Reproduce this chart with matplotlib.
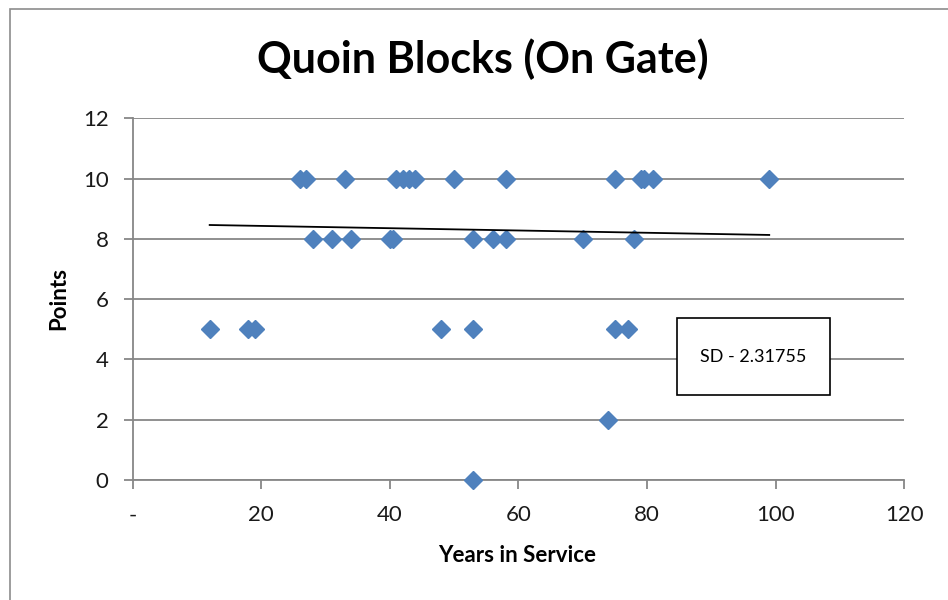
import numpy as np
import matplotlib
matplotlib.use("Agg")
import matplotlib.pyplot as plt
from matplotlib.patches import Rectangle

# ---- data ----
years_10 = [26, 27, 33, 41, 42, 43, 44, 50, 58, 75, 79, 79.5, 81, 99]
years_8 = [28, 31, 34, 40, 40.5, 53, 56, 58, 70, 78]
years_5 = [12, 18, 19, 48, 53, 75, 77]
years_2 = [74]
years_0 = [53]

years = years_10 + years_8 + years_5 + years_2 + years_0
points = [10] * len(years_10) + [8] * len(years_8) + [5] * len(years_5) + [2] * len(years_2) + [0] * len(years_0)

# linear trendline endpoints as drawn in the reference
trend_x = [12, 99]
trend_y = [8.46, 8.13]

title = "Quoin Blocks (On Gate)"
x_label = "Years in Service"
y_label = "Points"
sd_text = "SD - 2.31755"
x_ticks = [0, 20, 40, 60, 80, 100, 120]
x_tick_labels = ["-", "20", "40", "60", "80", "100", "120"]
y_ticks = [0, 2, 4, 6, 8, 10, 12]

FONT = ["Lato", "DejaVu Sans"]
plt.rcParams["font.family"] = FONT

W, H = 948, 600
fig = plt.figure(figsize=(W / 100, H / 100), dpi=100)
fig.patch.set_facecolor("white")

# outer chart frame
fig.patches.append(Rectangle((10 / W, -0.1), 1.2, 1 - 9 / H + 0.1, transform=fig.transFigure,
                             fill=False, edgecolor="#8c8c8c", linewidth=1.2))

ax = fig.add_axes([132.5 / W, 1 - 480 / H, (904.3 - 132.5) / W, (480 - 118.3) / H])
ax.set_xlim(0, 120)
ax.set_ylim(0, 12)

grid_c = "#878787"
for s in ["top", "right"]:
    ax.spines[s].set_visible(False)
for s in ["left", "bottom"]:
    ax.spines[s].set_color(grid_c)
    ax.spines[s].set_linewidth(1.3)

ax.set_yticks(y_ticks)
ax.set_xticks(x_ticks)
ax.set_xticklabels(x_tick_labels)
ax.yaxis.grid(True, color=grid_c, linewidth=1.3)
ax.set_axisbelow(True)
ax.tick_params(axis="both", direction="out", length=6.3, width=1.3, color=grid_c,
               labelsize=16, labelcolor="#1a1a1a")
ax.tick_params(axis="x", pad=12)
ax.tick_params(axis="y", pad=11)

ax.plot(years, points, linestyle="none", marker="D", markersize=9.5,
        markerfacecolor="#4F81BD", markeredgecolor="#4F81BD", clip_on=False, zorder=3)

ax.plot(trend_x, trend_y, color="black", linewidth=1.3, zorder=4)

fig.text(483 / W, 1 - 73 / H, title, ha="center", va="baseline",
         fontsize=31, fontweight="bold", color="black")
ax.set_xlabel(x_label, fontsize=16, fontweight="bold")
ax.xaxis.set_label_coords((517.5 - 132.5) / 771.8, (480 - 555) / 361.7)
ax.xaxis.label.set_va("center")
ax.set_ylabel(y_label, fontsize=16, fontweight="bold")
ax.yaxis.set_label_coords((59 - 132.5) / 771.8, (480 - 299) / 361.7)
ax.yaxis.label.set_va("center")

# SD box
fig.patches.append(Rectangle((677 / W, 1 - 395 / H), (830 - 677) / W, (395 - 318) / H,
                             transform=fig.transFigure, facecolor="white",
                             edgecolor="black", linewidth=1.2, zorder=5))
fig.text(753 / W, 1 - 357 / H, sd_text, ha="center", va="center", fontsize=13,
         color="black", zorder=6)

fig.savefig("out.png", dpi=100)
